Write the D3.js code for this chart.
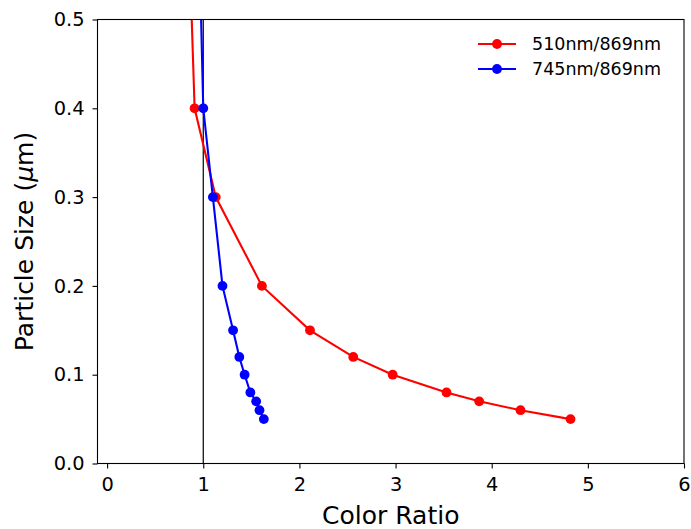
<!DOCTYPE html>
<html>
<head>
<meta charset="utf-8">
<script src="https://cdn.jsdelivr.net/npm/d3@7"></script>
<style>
  body { margin: 0; background: #fff; }
  text { font-family: "DejaVu Sans", sans-serif; fill: #000; }
</style>
</head>
<body>
<div id="chart"></div>
<script>
// particle size (um) for each point, shared by both series
var sizes = [0.6, 0.4, 0.3, 0.2, 0.15, 0.12, 0.10, 0.08, 0.07, 0.06, 0.05];
// colour ratios
var ratio510 = [0.85, 0.91, 1.13, 1.61, 2.11, 2.56, 2.97, 3.53, 3.87, 4.30, 4.82];
var ratio745 = [0.955, 1.0, 1.10, 1.20, 1.31, 1.375, 1.43, 1.49, 1.55, 1.585, 1.63];
var seriesNames = ["510nm/869nm", "745nm/869nm"];
var seriesColors = ["#ff0000", "#0000ff"];
var xTicks = [0, 1, 2, 3, 4, 5, 6];
var yTicks = [0.0, 0.1, 0.2, 0.3, 0.4, 0.5];

var W = 691, H = 529;
var margin = {top: 19.5, right: 7, bottom: 65.5, left: 97.5};
var width = W - margin.left - margin.right,
    height = H - margin.top - margin.bottom;

var svg = d3.select("#chart").append("svg")
    .attr("width", W)
    .attr("height", H);

var g = svg.append("g")
    .attr("transform", "translate(" + margin.left + "," + margin.top + ")");

var x = d3.scaleLinear().domain([-0.1, 6]).range([0, width]);
var y = d3.scaleLinear().domain([0, 0.5]).range([height, 0]);

svg.append("defs").append("clipPath").attr("id", "clip")
  .append("rect").attr("width", width).attr("height", height);

var plot = g.append("g").attr("clip-path", "url(#clip)");

// vertical reference line at ratio = 1
plot.append("line")
    .attr("x1", x(1)).attr("x2", x(1))
    .attr("y1", 0).attr("y2", height)
    .attr("stroke", "#000")
    .attr("stroke-width", 1.2);

var series = [ratio510, ratio745].map(function (r, i) {
  return {
    name: seriesNames[i],
    color: seriesColors[i],
    values: r.map(function (v, j) { return {ratio: v, size: sizes[j]}; })
  };
});

var line = d3.line()
    .x(function (d) { return x(d.ratio); })
    .y(function (d) { return y(d.size); });

series.forEach(function (s) {
  plot.append("path")
      .datum(s.values)
      .attr("fill", "none")
      .attr("stroke", s.color)
      .attr("stroke-width", 2.1)
      .attr("d", line);
  plot.selectAll(null)
      .data(s.values)
    .enter().append("circle")
      .attr("cx", function (d) { return x(d.ratio); })
      .attr("cy", function (d) { return y(d.size); })
      .attr("r", 4.9)
      .attr("fill", s.color);
});

// axes
var xAxis = g.append("g")
    .attr("transform", "translate(0," + height + ")")
    .call(d3.axisBottom(x).tickValues(xTicks).tickFormat(d3.format("d"))
      .tickSize(5).tickPadding(8.5));
var yAxis = g.append("g")
    .call(d3.axisLeft(y).tickValues(yTicks).tickFormat(d3.format(".1f"))
      .tickSize(5).tickPadding(8));

[xAxis, yAxis].forEach(function (a) {
  a.select(".domain").remove();
  a.selectAll(".tick line").attr("stroke", "#000").attr("stroke-width", 1.1);
  a.selectAll(".tick text").style("font-size", "19.4px")
    .style("font-family", "DejaVu Sans, sans-serif");
});

// frame
g.append("rect")
    .attr("width", width).attr("height", height)
    .attr("fill", "none")
    .attr("stroke", "#000")
    .attr("stroke-width", 1.1);

// axis labels
svg.append("text")
    .attr("x", margin.left + width / 2)
    .attr("y", 524)
    .attr("text-anchor", "middle")
    .style("font-size", "25px")
    .text("Color Ratio");

var yl = svg.append("text")
    .attr("transform", "translate(33," + (margin.top + height / 2) + ") rotate(-90)")
    .attr("text-anchor", "middle")
    .style("font-size", "25px");
yl.append("tspan").text("Particle Size (");
yl.append("tspan").style("font-style", "italic").text("\u03bc");
yl.append("tspan").text("m)");

// legend
var legend = svg.append("g");
series.forEach(function (s, i) {
  var ly = 44 + i * 25;
  legend.append("line")
      .attr("x1", 478).attr("x2", 516)
      .attr("y1", ly).attr("y2", ly)
      .attr("stroke", s.color).attr("stroke-width", 2.1);
  legend.append("circle")
      .attr("cx", 497).attr("cy", ly).attr("r", 4.9)
      .attr("fill", s.color);
  legend.append("text")
      .attr("x", 532).attr("y", ly + 6)
      .style("font-size", "17.5px")
      .text(s.name);
});
</script>
</body>
</html>
